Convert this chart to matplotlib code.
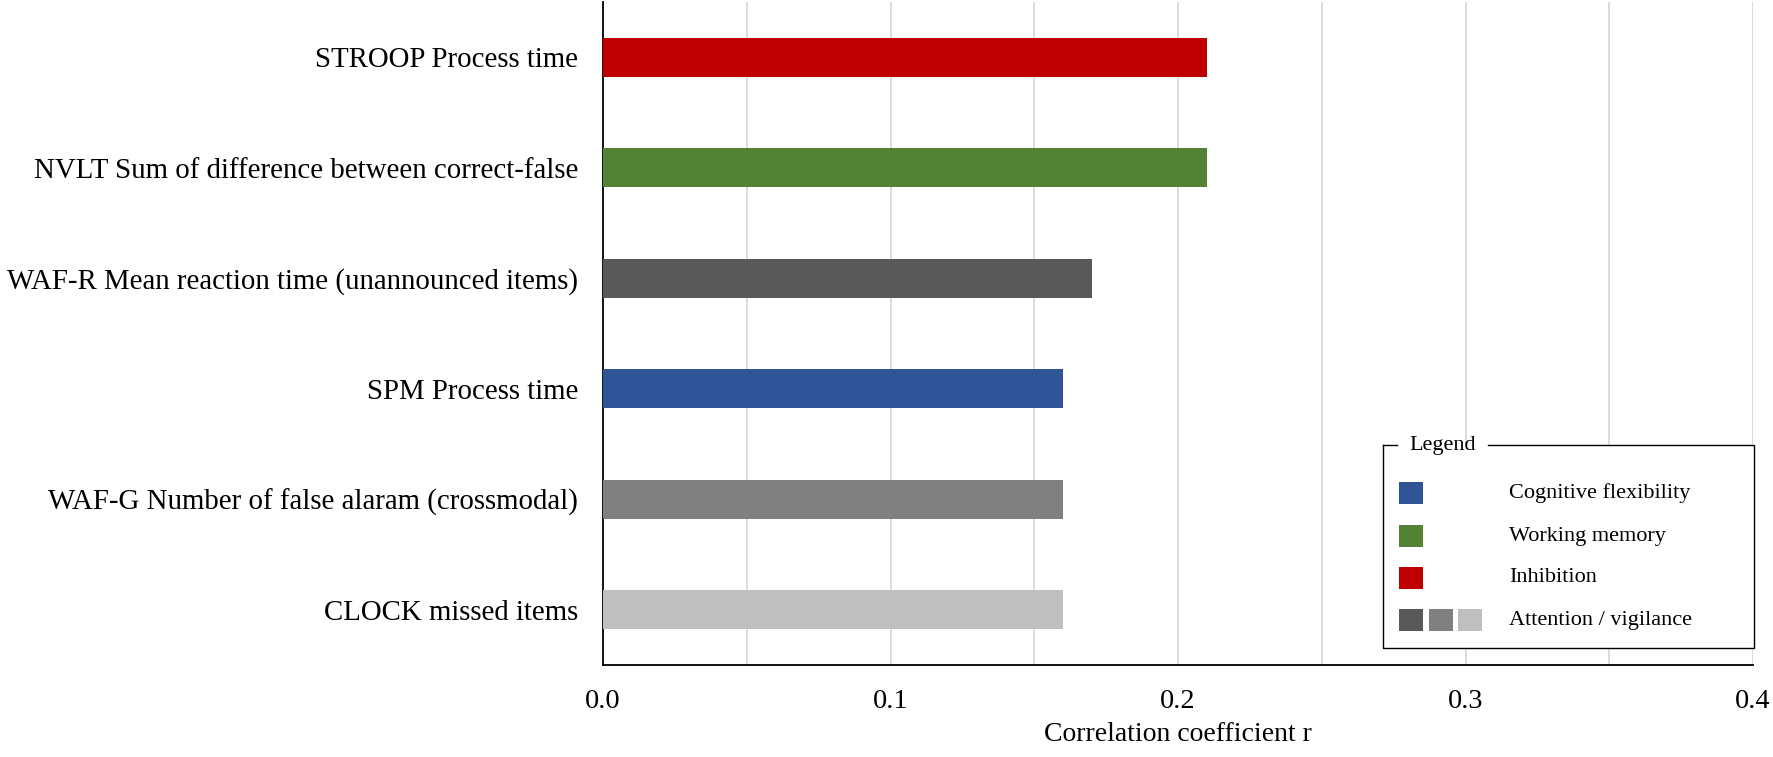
import matplotlib
matplotlib.use('Agg')
import matplotlib.pyplot as plt
from matplotlib.patches import Rectangle

# data (top to bottom)
measures = ['STROOP Process time',
            'NVLT Sum of difference between correct-false',
            'WAF-R Mean reaction time (unannounced items)',
            'SPM Process time',
            'WAF-G Number of false alaram (crossmodal)',
            'CLOCK missed items']
r_values = [0.21, 0.21, 0.17, 0.16, 0.16, 0.16]
bar_colors = ['#C00000', '#548235', '#595959', '#2F5597', '#808080', '#BFBFBF']

legend_labels = ['Cognitive flexibility', 'Working memory', 'Inhibition', 'Attention / vigilance']
legend_colors = [['#2F5597'], ['#548235'], ['#C00000'], ['#595959', '#808080', '#BFBFBF']]

x_ticks = [0.0, 0.1, 0.2, 0.3, 0.4]
x_grid = [0.05, 0.1, 0.15, 0.2, 0.25, 0.3, 0.35, 0.4]

plt.rcParams['font.family'] = ['Liberation Serif', 'DejaVu Serif']

W, H = 1773, 757
fig = plt.figure(figsize=(W / 100, H / 100), dpi=100)
ax = fig.add_axes([603 / W, 1 - 665 / H, (1753 - 603) / W, (665 - 2) / H])

pos = list(range(len(measures)))
ax.barh(pos, r_values, height=0.355, color=bar_colors, zorder=3)

ax.set_ylim(len(measures) - 0.5, -0.5)
ax.set_yticks(pos)
ax.set_yticklabels(measures, fontsize=20.8)
ax.set_xlim(0, 0.4)
ax.set_xticks(x_ticks)
ax.set_xticklabels(['%.1f' % t for t in x_ticks], fontsize=20.5)
ax.tick_params(axis='both', length=0)
ax.tick_params(axis='x', pad=17)
ax.tick_params(axis='y', pad=18)

for g in x_grid:
    ax.axvline(g, color='#D9D9D9', lw=1.3, zorder=1)

ax.spines['top'].set_visible(False)
ax.spines['right'].set_visible(False)
ax.spines['left'].set_linewidth(1.3)
ax.spines['bottom'].set_linewidth(1.3)

ax.set_xlabel('Correlation coefficient r', fontsize=20, labelpad=6)

# custom legend box with title breaking the top border
lx0, lx1, ly0, ly1 = 1383, 1754, 445, 648
lax = fig.add_axes([lx0 / W, 1 - ly1 / H, (lx1 - lx0) / W, (ly1 - ly0) / H])
lax.set_xlim(lx0, lx1)
lax.set_ylim(ly1, ly0)
lax.axis('off')
lax.add_patch(Rectangle((lx0, ly0), lx1 - lx0, ly1 - ly0, facecolor='white', edgecolor='none', zorder=0))
kw = dict(color='black', lw=1.0, clip_on=False)
lax.plot([lx0, lx0, lx1, lx1, 1488], [ly0, ly1, ly1, ly0, ly0], **kw)
lax.plot([1397, lx0], [ly0, ly0], **kw)
lax.text(1443, ly0, 'Legend', fontsize=16, ha='center', va='center')

row_y = [493, 536, 578, 620]
for label, cols, y in zip(legend_labels, legend_colors, row_y):
    for k, c in enumerate(cols):
        lax.add_patch(Rectangle((1399 + k * 29.5, y - 11), 24, 22, facecolor=c, edgecolor='none'))
    lax.text(1509, y, label, fontsize=16, ha='left', va='center')

fig.savefig('out.png', dpi=100)
